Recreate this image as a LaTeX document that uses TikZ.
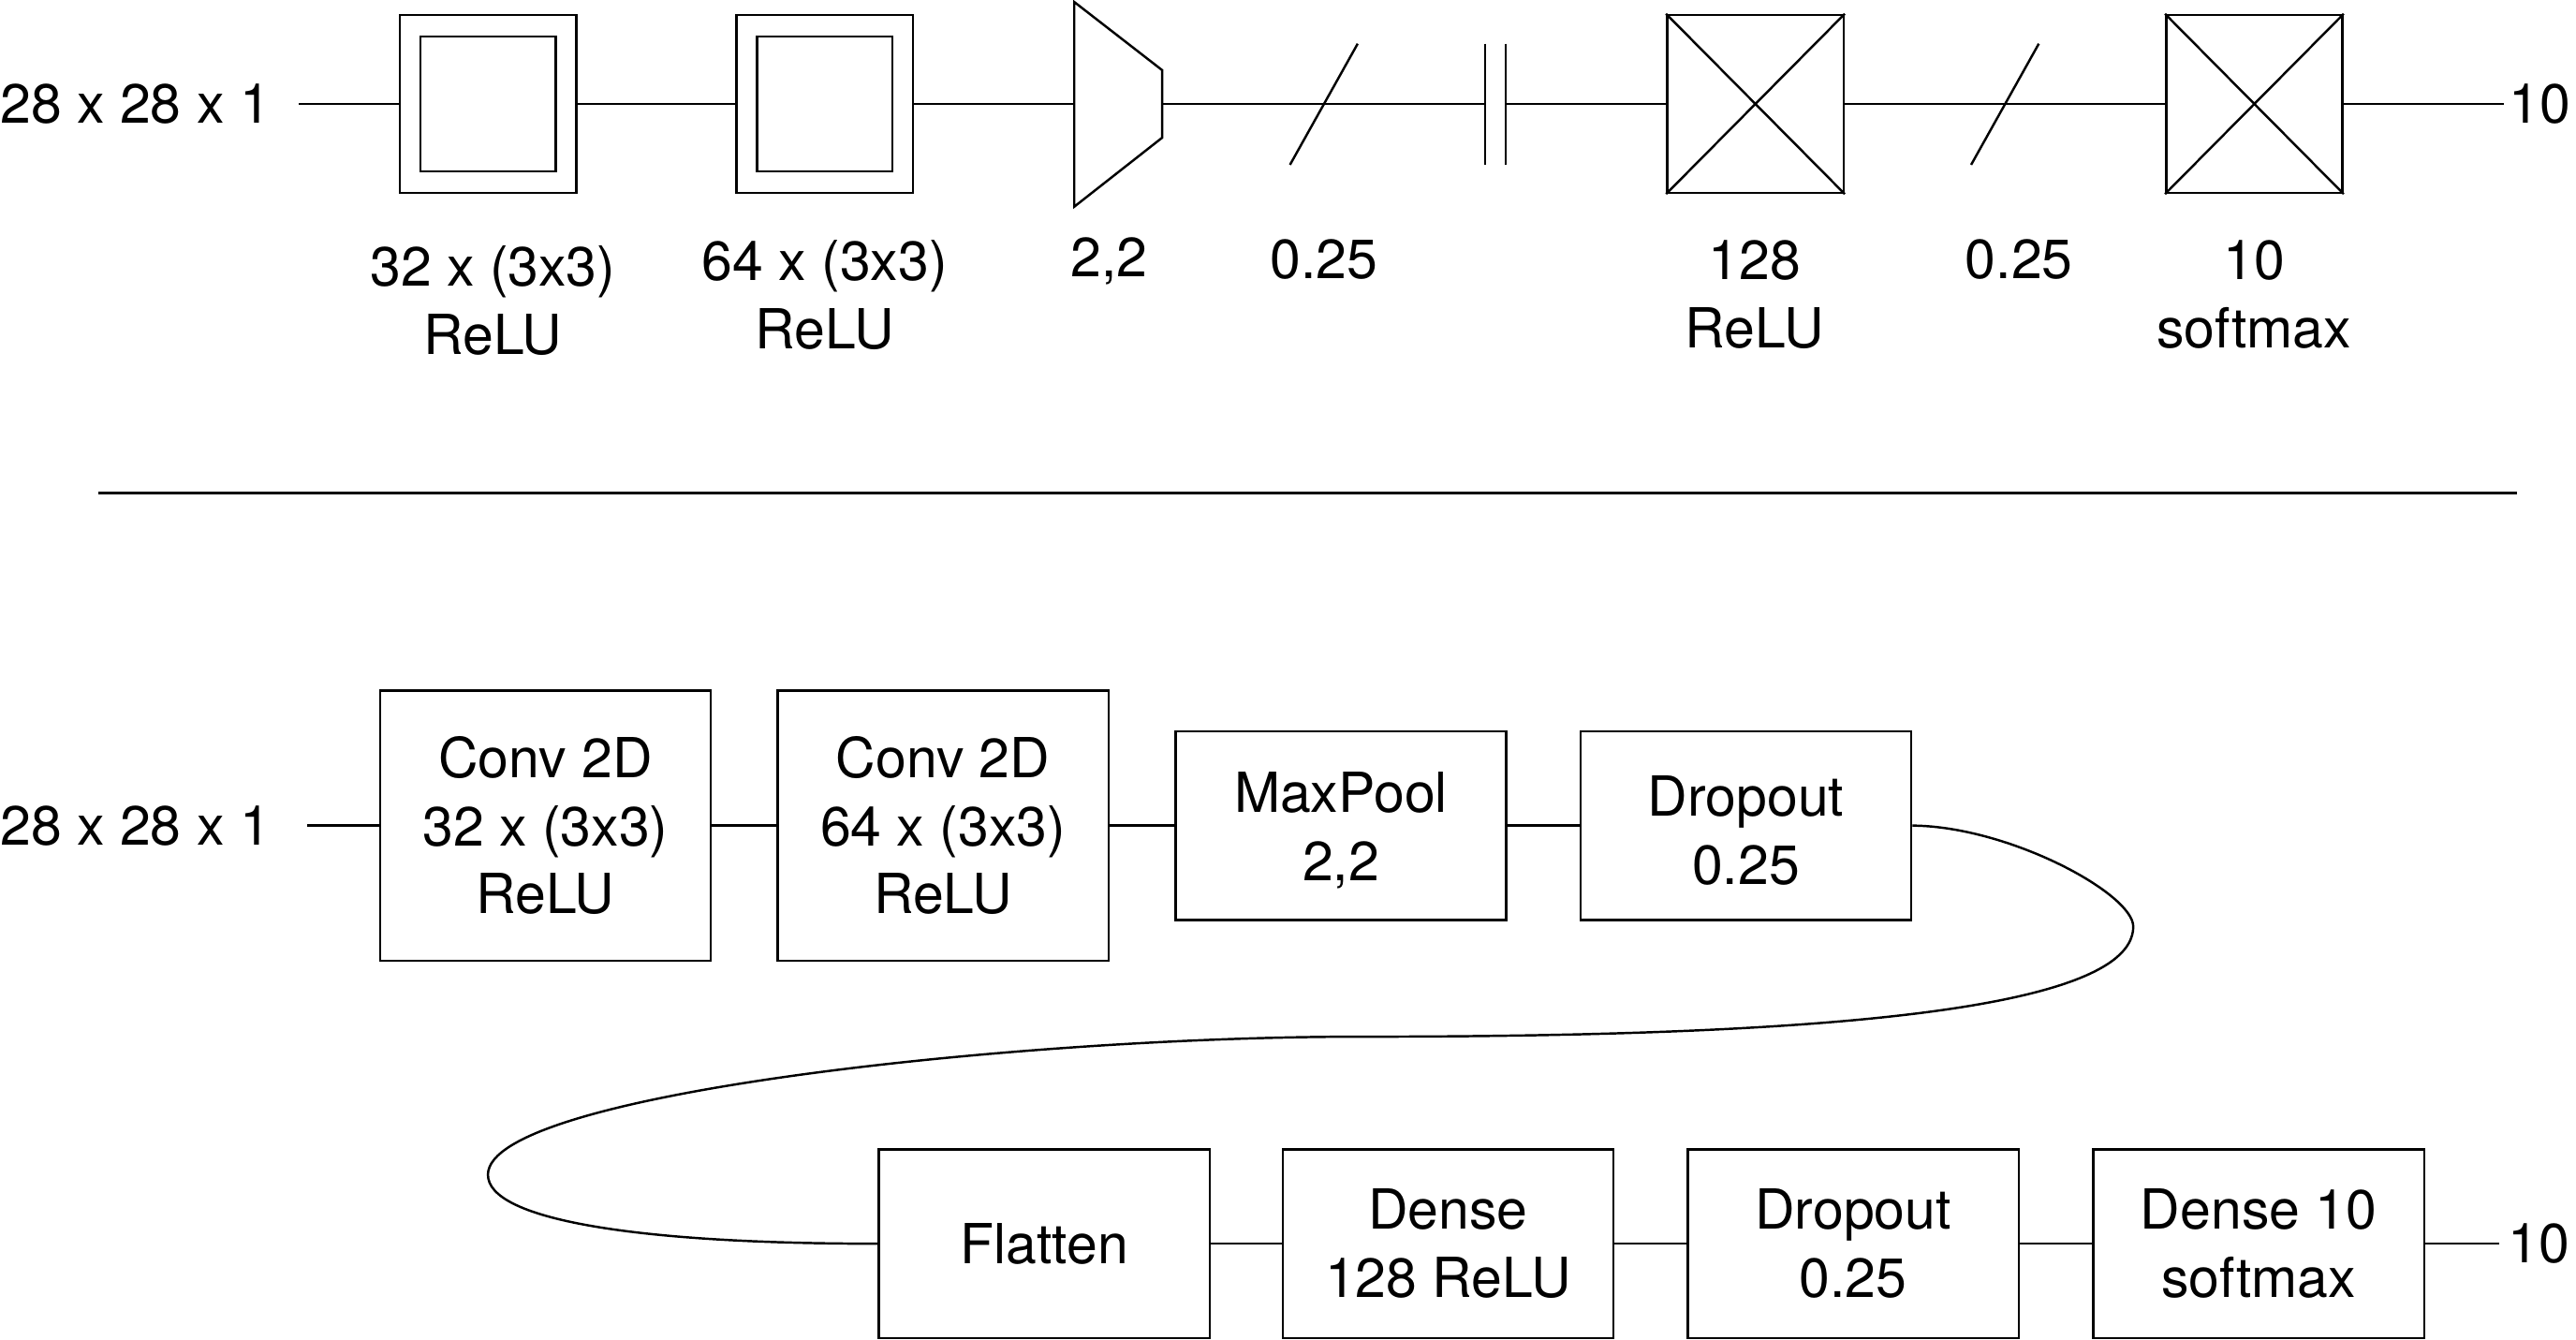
\documentclass[tikz,border=0pt]{standalone}
\usepackage{fontspec}
\setmainfont{TeX Gyre Heros}
\begin{document}
\begin{tikzpicture}[x=0.5pt,y=-0.5pt,
  every node/.style={font=\fontsize{16.8}{20.75}\selectfont, inner sep=0pt},
  ln/.style={line width=0.7pt},
  bigbox/.style={draw, line width=0.7pt, minimum width=100.7pt, minimum height=82.25pt, align=center},
  smallbox/.style={draw, line width=0.7pt, minimum width=100.7pt, minimum height=57.4pt, align=center},
  outerbox/.style={draw, line width=0.7pt, minimum width=53.7pt, minimum height=54.15pt},
  innerbox/.style={draw, line width=0.7pt, minimum width=41.2pt, minimum height=41.15pt},
  lbl/.style={align=center}]
\useasboundingbox (0,0) rectangle (1568,815.6);

% ---------- top row (symbolic) ----------
\node[anchor=east, inner xsep=8.5pt] (in1) at (182,63.25) {28 x 28 x 1};
\node[outerbox] (b1) at (297,63.25) {};
\node[innerbox] (b1i) at (b1) {};
\node[outerbox] (b2) at (502.1,63.25) {};
\node[innerbox] (b2i) at (b2) {};
\coordinate (tl) at (653.9,63.25);
\coordinate (tr) at (707.4,63.25);
\draw[ln] (653.9,1.2) -- (707.4,42.7) -- (707.4,83.8) -- (653.9,125.8) -- cycle;
\coordinate (cp1) at (904,63.25);
\coordinate (cp2) at (916.5,63.25);
\draw[ln] (904,26.6) -- (904,100.3);
\draw[ln] (916.5,26.6) -- (916.5,100.3);
\node[outerbox] (b3) at (1068.5,63.25) {};
\draw[ln] (b3.north west) -- (b3.south east) (b3.north east) -- (b3.south west);
\node[outerbox] (b4) at (1372.2,63.25) {};
\draw[ln] (b4.north west) -- (b4.south east) (b4.north east) -- (b4.south west);
\node[anchor=west, inner xsep=1.5pt] (out1) at (1524,63.25) {10};

\draw[ln] (in1) -- (b1);
\draw[ln] (b1) -- (b2);
\draw[ln] (b2) -- (tl);
\draw[ln] (tr) -- (cp1);
\draw[ln] (cp2) -- (b3);
\draw[ln] (b3) -- (b4);
\draw[ln] (b4) -- (out1);
% dropout slashes
\draw[ln] (785.2,100.3) -- (826.4,26.6);
\draw[ln] (1199.8,100.3) -- (1241,26.6);

\node[lbl] (l1) at (300,183) {32 x (3x3)\\ReLU};
\node[lbl] (l2) at (502,179.5) {64 x (3x3)\\ReLU};
\node (l3) at (675,159) {2,2};
\node (l4) at (806,158) {0.25};
\node[lbl] (l5) at (1068,179.5) {128\\ReLU};
\node (l6) at (1229,158) {0.25};
\node[lbl] (l7) at (1372,179.5) {10\\softmax};

% separator
\draw[ln] (60,300) -- (1532,300);

% ---------- bottom rows (boxes) ----------
\node[anchor=east, inner xsep=11pt] (in2) at (187,502.5) {28 x 28 x 1};
\node[bigbox] (cv1) at (332,502.5) {Conv 2D\\32 x (3x3)\\ReLU};
\node[bigbox] (cv2) at (574,502.5) {Conv 2D\\64 x (3x3)\\ReLU};
\node[smallbox] (mp) at (816.2,502.5) {\rule{0pt}{15.1pt}MaxPool\\2,2};
\node[smallbox] (do1) at (1062.7,502.5) {\rule{0pt}{15.1pt}Dropout\\0.25};
\node[smallbox] (fl) at (635.6,757) {Flatten};
\node[smallbox] (de) at (881.5,757) {Dense\\128 ReLU};
\node[smallbox] (do2) at (1128,757) {Dropout\\0.25};
\node[smallbox] (d10) at (1374.8,757) {Dense 10\\softmax};
\node[anchor=west, inner xsep=2.75pt] (out2) at (1521,757) {10};

\draw[ln] (in2) -- (cv1);
\draw[ln] (cv1) -- (cv2);
\draw[ln] (cv2) -- (mp);
\draw[ln] (mp) -- (do1);
\draw[ln] (do1.east) .. controls (1223,503) and (1298.5,544) .. (1298.5,564)
  .. controls (1298.5,619) and (1076,631) .. (826,631)
  .. controls (626,631) and (297,665) .. (297,715)
  .. controls (297,742) and (385,757) .. (fl.west);
\draw[ln] (fl) -- (de);
\draw[ln] (de) -- (do2);
\draw[ln] (do2) -- (d10);
\draw[ln] (d10) -- (out2);
\end{tikzpicture}
\end{document}
